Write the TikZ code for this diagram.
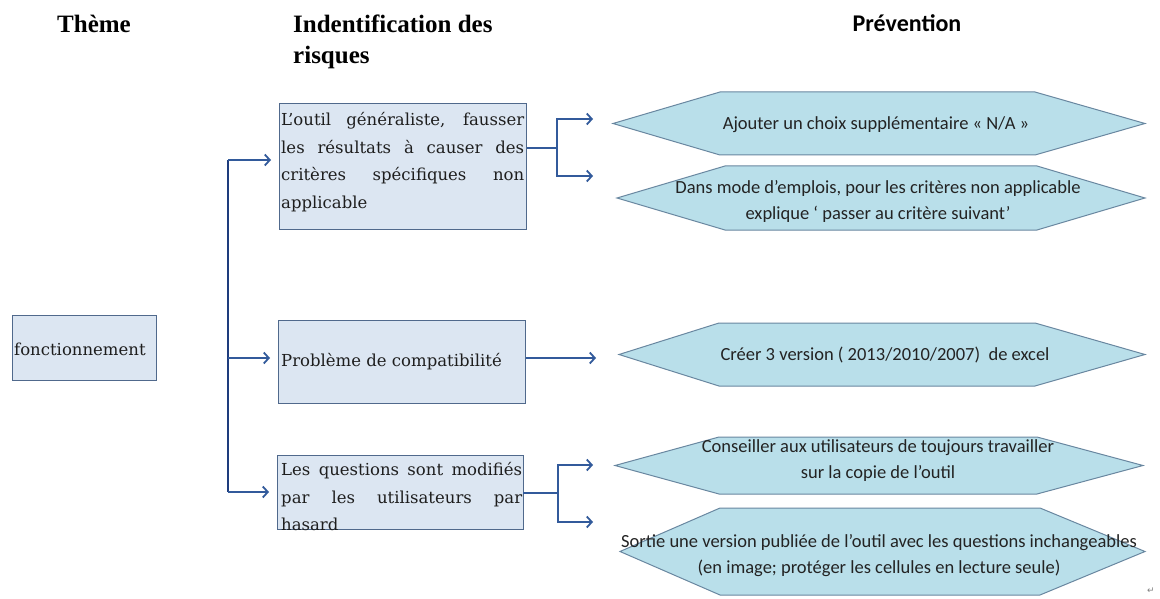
\documentclass[tikz,border=0pt]{standalone}
\usepackage{fontspec}
\setmainfont{DejaVu Serif}
\newfontfamily\hdrfont{Liberation Serif}
\newfontfamily\calfont{Carlito}
\newfontfamily\symfont{DejaVu Sans}
\usetikzlibrary{arrows.meta,calc}
\definecolor{boxfill}{RGB}{220,230,242}
\definecolor{boxborder}{RGB}{80,105,140}
\definecolor{hexfill}{RGB}{185,223,234}
\definecolor{hexborder}{RGB}{105,135,160}
\definecolor{arrblue}{RGB}{50,90,155}
\definecolor{navy}{RGB}{30,60,125}
\definecolor{txt}{RGB}{30,30,30}
\definecolor{htxt}{RGB}{35,35,35}
\newcommand\hexa[7]{%
  \draw[hexshape] (#2,{(#3+#4)/2}) -- (#5,#3) -- (#6,#3) -- (#7,{(#3+#4)/2}) -- (#6,#4) -- (#5,#4) -- cycle;
  \coordinate (#1) at (#2,{(#3+#4)/2});}
\begin{document}
\begin{tikzpicture}[x=1pt,y=-1pt,
  rbox/.style={draw=boxborder, fill=boxfill, line width=1.1pt, inner sep=0pt, anchor=north west},
  btext/.style={font=\fontsize{16.5}{27.5}\selectfont, text=txt, inner sep=0pt},
  hexshape/.style={draw=hexborder, fill=hexfill, line width=1pt},
  htext/.style={font=\calfont\fontsize{18.5}{26}\selectfont, align=center, text=htxt, inner sep=0pt},
  hdr/.style={font=\hdrfont\bfseries\fontsize{25}{31}\selectfont, inner sep=0pt, anchor=base west},
  conn/.style={draw=arrblue, line width=1.8pt},
  arr/.style={conn, -{Straight Barb[length=5pt,width=11pt]}},
  vline/.style={draw=navy, line width=1.8pt}]
\useasboundingbox (0,0) rectangle (1160,599);
\fill[white] (0,0) rectangle (1160,599);

% headers
\node[hdr] (h1) at (57,33) {Thème};
\node[hdr] (h2a) at (293,33) {Indentification des};
\node[hdr] (h2b) at (293,64) {risques};
\node[font=\calfont\bfseries\fontsize{24}{29}\selectfont, anchor=base, inner sep=0pt] (h3) at (907,32) {Prévention};

% boxes
\node[rbox, minimum width=144pt, minimum height=65pt] (theme) at (12,315) {};
\node[btext, anchor=base west] (themet) at (14,355) {fonctionnement};

\node[rbox, minimum width=247pt, minimum height=126pt] (b1) at (279,103) {};
\node[btext, text width=243pt, align=justify, anchor=north west] (b1t) at (281,112.5)
  {L’outil généraliste, fausser\linebreak les résultats à causer des\linebreak critères spécifiques non\linebreak applicable};

\node[rbox, minimum width=247pt, minimum height=83pt] (b2) at (278,320) {};
\node[btext, anchor=base west] (b2t) at (281,366) {Problème de compatibilité};

\node[rbox, minimum width=246pt, minimum height=74pt] (b3) at (277,455) {};
\node[btext, text width=241pt, align=justify, anchor=north west] (b3t) at (281,462.5)
  {Les questions sont modifiés\linebreak par les utilisateurs par\linebreak hasard};

% hexagons
\hexa{h1L}{613}{92}{155}{720}{1035}{1145}
\hexa{h2L}{617}{166}{230}{725}{1037}{1145}
\hexa{h3L}{619}{323}{386}{719}{1035}{1145}
\hexa{h4L}{615}{437}{494}{719}{1037}{1143}
\hexa{h5L}{620}{508}{595}{720}{1040}{1145}

\node[htext, anchor=base] (t1) at (876,130) {Ajouter un choix supplémentaire « N/A »};
\node[htext] (t2) at (878,201) {Dans mode d’emplois, pour les critères non applicable\\explique ‘ passer au critère suivant’};
\node[htext, anchor=base] (t3) at (885,360) {Créer 3 version ( 2013/2010/2007)\ \ de excel};
\node[htext] (t4) at (878,461) {Conseiller aux utilisateurs de toujours travailler\\sur la copie de l’outil};
\node[htext] (t5) at (879,556) {Sortie une version publiée de l’outil avec les questions inchangeables\\(en image; protéger les cellules en lecture seule)};

\node[font=\symfont\fontsize{9}{9}\selectfont, text=gray, inner sep=0pt] (ret) at (1151,591) {↵};

% left tree
\coordinate (v1) at (228,160);
\coordinate (v2) at (228,358);
\coordinate (v3) at (228,492);
\draw[vline] (v1) -- (v3);
\draw[arr] (v1) -- ($(b1.west |- v1)+(-8,0)$);
\draw[arr] (v2) -- ($(b2.west |- v2)+(-8,0)$);
\draw[arr] (v3) -- ($(b3.west |- v3)+(-8,0)$);

% right connectors
\coordinate (c1) at ($(b1.north east)+(0,45)$);
\coordinate (j1) at (557,148);
\coordinate (a1) at (593,119);
\coordinate (a2) at (593,176);
\draw[conn] (c1) -- (j1);
\draw[arr] (j1) |- (a1);
\draw[arr] (j1) |- (a2);

\coordinate (c2) at (b2.east |- v2);
\coordinate (a3) at (596,358);
\draw[arr] (c2) -- (a3);

\coordinate (c3) at (523,493);
\coordinate (j3) at (558,493);
\coordinate (a4) at (593,465);
\coordinate (a5) at (593,522);
\draw[conn] (c3) -- (j3);
\draw[arr] (j3) |- (a4);
\draw[arr] (j3) |- (a5);
\end{tikzpicture}
\end{document}
